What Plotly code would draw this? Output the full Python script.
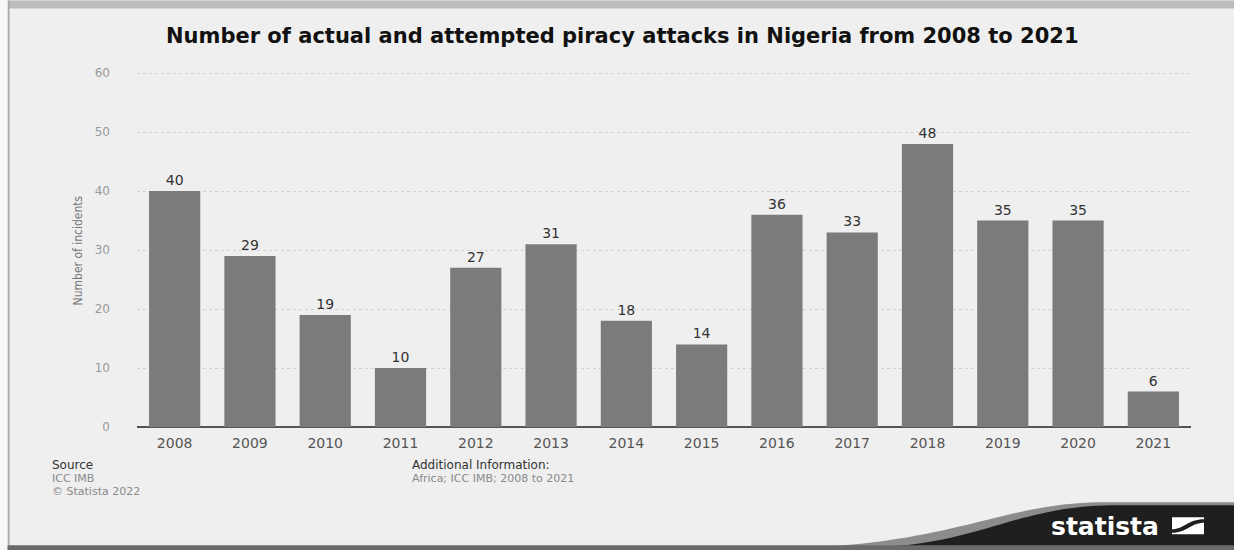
import plotly.graph_objects as go

years = ["2008", "2009", "2010", "2011", "2012", "2013", "2014",
         "2015", "2016", "2017", "2018", "2019", "2020", "2021"]
incidents = [40, 29, 19, 10, 27, 31, 18, 14, 36, 33, 48, 35, 35, 6]
y_ticks = [0, 10, 20, 30, 40, 50, 60]

W, H = 1234, 550
L, R, T, B = 137, 43, 71.5, 123.3
PW, PH = W - L - R, H - T - B


def px(x):
    return (x - L) / PW


def py(y):
    return (H - B - y) / PH


def pt(a, b):
    return f"{px(a):.5f},{py(b):.5f}"


fig = go.Figure()
fig.add_trace(go.Bar(
    x=years, y=incidents,
    marker=dict(color="#7b7b7b", line=dict(width=0)),
    text=incidents, textposition="outside",
    textfont=dict(family="DejaVu Sans, Liberation Sans, sans-serif", size=14, color="#333333"),
    cliponaxis=False,
))

shapes = []
# top border band
shapes.append(dict(type="rect", xref="paper", yref="paper", x0=px(8), x1=px(W), y0=py(8), y1=py(0),
                   fillcolor="#bdbdbd", line=dict(width=0), layer="below"))
# left border line
shapes.append(dict(type="rect", xref="paper", yref="paper", x0=px(7.5), x1=px(9.5), y0=py(545), y1=py(0),
                   fillcolor="#a8a8a8", line=dict(width=0), layer="below"))
# left outer strip
shapes.append(dict(type="rect", xref="paper", yref="paper", x0=px(0), x1=px(7.5), y0=py(H), y1=py(0),
                   fillcolor="#f7f7f7", line=dict(width=0), layer="below"))

gray_path = (f"M {pt(780, 548)} C {pt(950, 546)} {pt(1000, 503)} {pt(1100, 502)} "
             f"L {pt(1234, 502)} L {pt(1234, 548)} Z")
dark_path = (f"M {pt(860, 548)} C {pt(980, 546)} {pt(1010, 507)} {pt(1110, 505)} "
             f"L {pt(1234, 505)} L {pt(1234, 548)} Z")
shapes.append(dict(type="path", xref="paper", yref="paper", path=gray_path,
                   fillcolor="#8c8c8c", line=dict(width=0), layer="above"))
shapes.append(dict(type="path", xref="paper", yref="paper", path=dark_path,
                   fillcolor="#1f1f1f", line=dict(width=0), layer="above"))
# bottom border band
shapes.append(dict(type="rect", xref="paper", yref="paper", x0=px(7.5), x1=px(W), y0=py(H), y1=py(545),
                   fillcolor="#6a6a6a", line=dict(width=0), layer="above"))
# logo icon
shapes.append(dict(type="rect", xref="paper", yref="paper", x0=px(1172), x1=px(1204), y0=py(534), y1=py(517),
                   fillcolor="#ffffff", line=dict(width=0), layer="above"))
icon_path = (f"M {pt(1172, 529)} C {pt(1184, 529)} {pt(1188, 519)} {pt(1204, 519)} "
             f"L {pt(1204, 522.5)} C {pt(1191, 522.5)} {pt(1187, 532.5)} {pt(1172, 532.5)} Z")
shapes.append(dict(type="path", xref="paper", yref="paper", path=icon_path,
                   fillcolor="#1f1f1f", line=dict(width=0), layer="above"))

ann = []
font = "DejaVu Sans, Liberation Sans, sans-serif"
ann.append(dict(text="<b>Number of actual and attempted piracy attacks in Nigeria from 2008 to 2021</b>",
                xref="paper", yref="paper", x=px(622), y=py(35), showarrow=False,
                font=dict(family=font, size=21, color="#111111"), xanchor="center", yanchor="middle"))
ann.append(dict(text="Number of incidents", xref="paper", yref="paper", x=px(78), y=py(250),
                textangle=-90, showarrow=False, xanchor="center", yanchor="middle",
                font=dict(family="Liberation Sans Narrow, DejaVu Sans Condensed, Liberation Sans, sans-serif",
                          size=12, color="#777777")))
ann.append(dict(text="Source", xref="paper", yref="paper", x=px(50), y=py(465), showarrow=False,
                xanchor="left", yanchor="middle", font=dict(family=font, size=12, color="#333333")))
ann.append(dict(text="ICC IMB", xref="paper", yref="paper", x=px(50), y=py(478), showarrow=False,
                xanchor="left", yanchor="middle", font=dict(family=font, size=11, color="#8a8a8a")))
ann.append(dict(text="© Statista 2022", xref="paper", yref="paper", x=px(50), y=py(491), showarrow=False,
                xanchor="left", yanchor="middle", font=dict(family=font, size=11, color="#8a8a8a")))
ann.append(dict(text="Additional Information:", xref="paper", yref="paper", x=px(410), y=py(465),
                showarrow=False, xanchor="left", yanchor="middle",
                font=dict(family=font, size=12, color="#333333")))
ann.append(dict(text="Africa; ICC IMB; 2008 to 2021", xref="paper", yref="paper", x=px(410), y=py(478),
                showarrow=False, xanchor="left", yanchor="middle",
                font=dict(family=font, size=11, color="#8a8a8a")))
ann.append(dict(text="<b>statista</b>", xref="paper", yref="paper", x=px(1105), y=py(526),
                showarrow=False, xanchor="center", yanchor="middle",
                font=dict(family=font, size=25, color="#ffffff")))

fig.update_layout(
    width=W, height=H,
    margin=dict(l=L, r=R, t=T, b=B, pad=0),
    paper_bgcolor="#efefef", plot_bgcolor="#efefef",
    bargap=0.32, showlegend=False,
    shapes=shapes, annotations=ann,
    xaxis=dict(type="category", showgrid=False, showline=False, ticks="outside", ticklen=3,
               tickcolor="rgba(0,0,0,0)", tickfont=dict(family=font, size=14, color="#555555"),
               fixedrange=True),
    yaxis=dict(range=[0, 60.2], tickvals=y_ticks, showgrid=True, gridcolor="#d2d2d2", griddash="dot",
               gridwidth=1, zeroline=True, zerolinecolor="#555555", zerolinewidth=2,
               ticks="", tickfont=dict(family=font, size=12, color="#999999"),
               ticklabelstandoff=26, fixedrange=True),
)

fig.write_html("out.html")
